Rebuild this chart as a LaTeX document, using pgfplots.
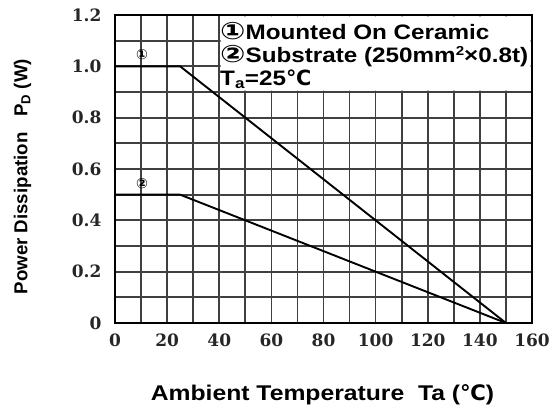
\documentclass[border=0pt]{standalone}
\usepackage{fontspec}
\setmainfont{Liberation Sans}
\newfontfamily\widefont[FakeStretch=1.16]{Liberation Sans}
\newfontfamily\tickfont{DejaVu Serif}
\newfontfamily\symfont{DejaVu Sans}
\newfontfamily\symwide[FakeStretch=1.25]{DejaVu Sans}
\usepackage{pgfplots}
\pgfplotsset{compat=1.18}
\usetikzlibrary{calc}

\begin{document}
\begin{tikzpicture}
  \begin{axis}[
    scale only axis,
    width=417pt, height=308pt,
    xmin=0, xmax=160, ymin=0, ymax=1.2,
    xtick={0,20,...,160},
    ytick={0,0.2,...,1.2},
    yticklabels={0,0.2,0.4,0.6,0.8,1.0,1.2},
    minor xtick={10,30,...,150},
    minor ytick={0.1,0.3,...,1.1},
    grid=both,
    major grid style={black!75, line width=1.7pt},
    minor grid style={black!75, line width=1.7pt},
    major tick length=0pt, minor tick length=0pt,
    axis line style={line width=2.3pt},
    /pgf/number format/assume math mode=true,
    ticklabel style={font=\tickfont\bfseries\fontsize{17}{18}\selectfont, text=black!85},
    xticklabel style={yshift=-7pt},
    yticklabel style={xshift=-10pt},
    xlabel={Ambient Temperature\ \ Ta ({\symfont\bfseries ℃})},
    ylabel={Power Dissipation\ \ \ P\textsubscript{D} (W)},
    xlabel style={at={(axis description cs:0.4976,-0.2338)}, anchor=center,
                  font=\widefont\bfseries\fontsize{21.3}{22}\selectfont},
    ylabel style={at={(axis description cs:-0.222,0.475)}, anchor=center,
                  font=\bfseries\fontsize{18.7}{20}\selectfont},
  ]
    % white panel behind the notes
    \addplot[fill=white, draw=none] coordinates {(40.5,0.905) (159.5,0.905) (159.5,1.195) (40.5,1.195)} \closedcycle;
    % (1) mounted on ceramic
    \addplot[black, line width=1.9pt] coordinates {(0,1.0) (25,1.0) (150,0)};
    % (2) substrate
    \addplot[black, line width=1.9pt] coordinates {(0,0.5) (25,0.5) (150,0)};
    \node[font=\symfont\bfseries\fontsize{14}{14}\selectfont] at (axis cs:10.4,1.044) {①};
    \node[font=\symfont\bfseries\fontsize{14}{14}\selectfont] at (axis cs:10.4,0.545) {②};
    \node[anchor=north west, inner sep=0pt, align=left,
          font=\widefont\bfseries\fontsize{20.9}{23}\selectfont]
      at (axis description cs:0.2518,0.9773)
      {{\symwide\fontsize{24}{23}\selectfont ①}Mounted On Ceramic\\
       {\symwide\fontsize{24}{23}\selectfont ②}Substrate (250mm\raisebox{0.32em}{\fontsize{13}{13}\selectfont 2}×0.8t)\\
       T\textsubscript{a}=25{\symfont\bfseries ℃}};
  \end{axis}
  \pgfresetboundingbox
  \useasboundingbox ($(current axis.south west)+(-115pt,-84pt)$) rectangle ($(current axis.north east)+(25pt,15pt)$);
\end{tikzpicture}
\end{document}
